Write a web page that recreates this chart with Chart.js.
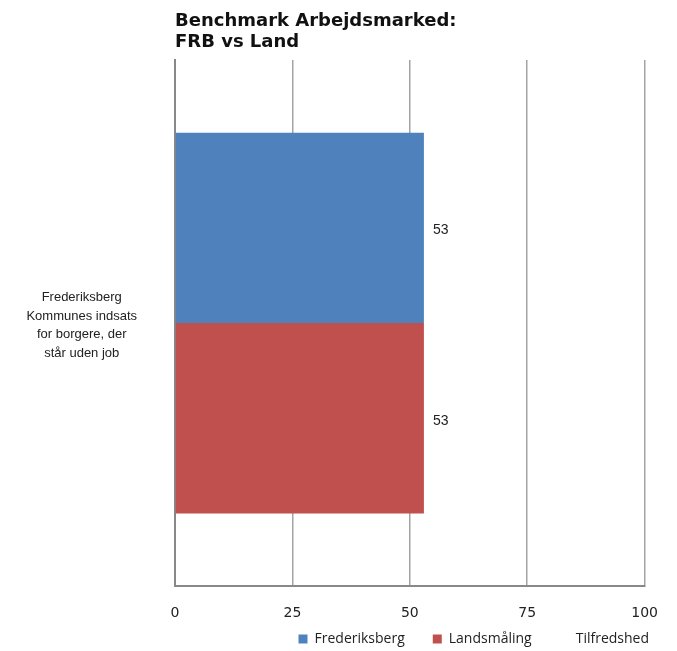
<!DOCTYPE html>
<html>
<head>
<meta charset="utf-8">
<script src="https://cdn.jsdelivr.net/npm/chart.js@4.4.0/dist/chart.umd.min.js"></script>
<style>
  html, body { margin: 0; padding: 0; background: #fff; }
  #wrap { width: 677px; height: 651px; }
</style>
</head>
<body>
<div id="wrap"><canvas id="benchChart"></canvas></div>
<script>
// data
const categories = [['Frederiksberg', 'Kommunes indsats', 'for borgere, der', 'står uden job']];
const frbValues = [53];
const landValues = [53];
const xTicks = [0, 25, 50, 75, 100];
const seriesNames = ['Frederiksberg', 'Landsmåling'];
const extraLegend = 'Tilfredshed';

// labels "53" right of each bar
const barLabels = {
    id: 'barLabels',
    afterDatasetsDraw(chart) {
        const c = chart.ctx;
        c.save();
        c.font = '14px "Liberation Sans", Arial, sans-serif';
        c.fillStyle = '#222';
        c.textAlign = 'left';
        c.textBaseline = 'middle';
        chart.data.datasets.forEach((ds, i) => {
            chart.getDatasetMeta(i).data.forEach((bar, j) => {
                c.fillText(ds.data[j], bar.x + 9, bar.y + 2.5);
            });
        });
        c.restore();
    }
};

const ctx = document.getElementById('benchChart').getContext('2d');
new Chart(ctx, {
    type: 'bar',
    data: {
        labels: categories,
        datasets: [{
            label: seriesNames[0],
            data: frbValues,
            backgroundColor: '#4F81BD'
        }, {
            label: seriesNames[1],
            data: landValues,
            backgroundColor: '#C0504D'
        }]
    },
    options: {
        indexAxis: 'y',
        responsive: true,
        maintainAspectRatio: false,
        animation: false,
        layout: { padding: { left: 0, right: 0, top: 0, bottom: -5 } },
        datasets: { bar: { categoryPercentage: 0.724, barPercentage: 1 } },
        scales: {
            x: {
                min: 0, max: 100,
                afterBuildTicks: s => { s.ticks = xTicks.map(v => ({ value: v })); },
                afterFit: s => {
                    s.height = 18;
                    // labels reach a bit into the legend band, don't clip them
                    s._computeLabelArea = () => undefined;
                },
                grid: { color: '#a3a3a3', lineWidth: 1.5, drawTicks: false },
                border: { color: '#888', width: 2 },
                ticks: { padding: 19, color: '#222', font: { family: '"DejaVu Sans", sans-serif', size: 14 } }
            },
            y: {
                grid: { display: false, drawTicks: false },
                border: { color: '#888', width: 2 },
                afterFit: s => { s.width = 175; s.paddingTop = 0; s.paddingBottom = 0; },
                ticks: {
                    crossAlign: 'center', padding: 38, labelOffset: 2.5, color: '#222',
                    font: { family: '"Liberation Sans", Arial, sans-serif', size: 13, lineHeight: 1.42 }
                }
            },
            // empty axis on the right only to keep room like the original
            yRight: {
                position: 'right',
                display: true,
                grid: { display: false, drawTicks: false },
                border: { display: false },
                ticks: { display: false },
                afterFit: s => { s.width = 32; s.paddingTop = 0; s.paddingBottom = 0; }
            }
        },
        plugins: {
            title: {
                display: true,
                fullSize: false,
                align: 'start',
                text: ['Benchmark Arbejdsmarked:', 'FRB vs Land'],
                color: '#111',
                font: { family: '"DejaVu Sans", sans-serif', size: 18, weight: 'bold', lineHeight: 1.17 },
                padding: { top: 11, bottom: 7 }
            },
            legend: {
                position: 'bottom',
                align: 'end',
                labels: {
                    boxWidth: 9, boxHeight: 9, padding: 28,
                    color: '#222',
                    font: { family: '"Open Sans", sans-serif', size: 14 },
                    generateLabels: chart => {
                        const items = Chart.defaults.plugins.legend.labels.generateLabels(chart);
                        items.forEach(it => { it.strokeStyle = 'transparent'; it.lineWidth = 0; });
                        items.push({ text: extraLegend, fillStyle: 'transparent', strokeStyle: 'transparent', lineWidth: 0, hidden: false, datasetIndex: -1 });
                        return items;
                    }
                }
            },
            tooltip: { enabled: false }
        }
    },
    plugins: [barLabels]
});
</script>
</body>
</html>
